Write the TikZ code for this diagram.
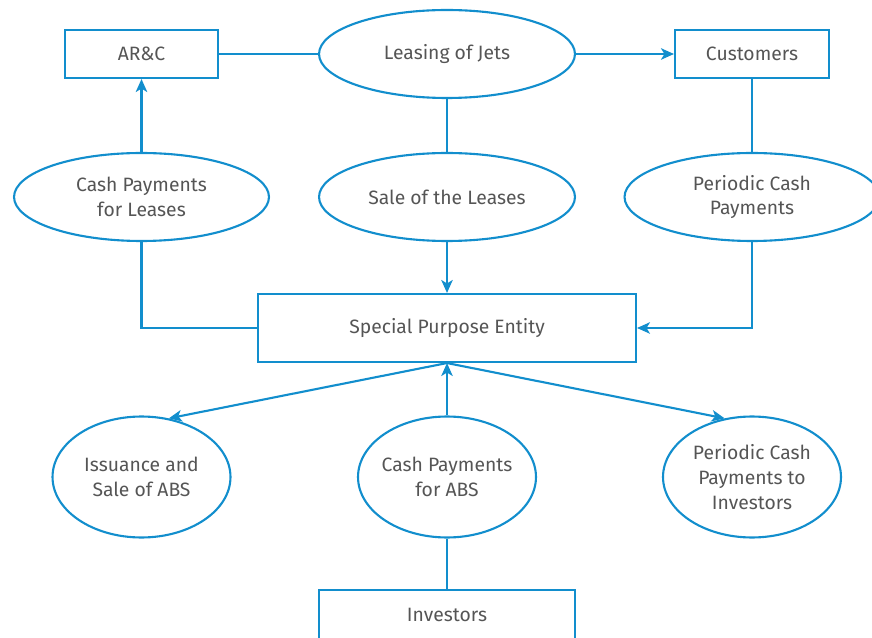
\documentclass[tikz,border=0pt]{standalone}
\usepackage{fontspec}
\setmainfont{Fira Sans}
\usetikzlibrary{shapes.geometric,arrows.meta}

\definecolor{flowblue}{RGB}{18,142,205}
\definecolor{flowtext}{RGB}{85,85,85}

\begin{document}
\begin{tikzpicture}[x=0.02cm,y=-0.02cm]

\tikzset{
  box node/.style={
    draw=flowblue, line width=1.2pt, rectangle,
    text=flowtext, font=\fontsize{11}{14.2}\selectfont,
    inner sep=0pt,
  },
  oval node/.style={
    draw=flowblue, line width=1.2pt, ellipse, align=center,
    text=flowtext, font=\fontsize{11}{14.2}\selectfont,
    inner sep=0pt,
  },
  small oval/.style={
    oval node, inner xsep=-6pt,
    minimum width=3.56cm, minimum height=2.42cm,
  },
  link/.style={
    draw=flowblue, line width=1.2pt,
  },
  arrowlink/.style={
    link, -{Stealth[length=2.6mm,width=2.3mm,inset=0.7mm]},
  }
}

  \useasboundingbox (0,0) rectangle (872,638);
  \clip (0,0) rectangle (872,638);

  % Top row
  \node[box node, minimum width=3.06cm, minimum height=0.96cm] (arc) at (141.5,54) {AR\&C};
  \node[oval node, minimum width=5.12cm, minimum height=1.76cm] (leasing) at (447,54) {Leasing of Jets};
  \node[box node, minimum width=3.08cm, minimum height=0.96cm] (customers) at (752,54) {Customers};

  % Second row
  \node[oval node, minimum width=5.1cm, minimum height=1.76cm] (cashleases) at (141.5,197) {Cash Payments\\for Leases};
  \node[oval node, minimum width=5.12cm, minimum height=1.76cm] (sale) at (447,197) {Sale of the Leases};
  \node[oval node, minimum width=5.1cm, minimum height=1.76cm] (periodic) at (752,197) {Periodic Cash\\Payments};

  % Middle
  \node[box node, minimum width=7.56cm, minimum height=1.36cm] (spe) at (447,328) {Special Purpose Entity};

  % Third row
  \node[small oval] (issuance) at (141.5,477) {Issuance and\\Sale of ABS};
  \node[small oval] (cashabs) at (447,477) {Cash Payments\\for ABS};
  \node[small oval] (periodicinv) at (752,477) {Periodic Cash\\Payments to\\Investors};

  % Bottom
  \node[box node, minimum width=5.12cm, minimum height=1.0cm] (investors) at (447,615) {Investors};

  % Edges
  \draw[link] (arc) -- (leasing);
  \draw[arrowlink] (leasing) -- (customers);
  \draw[link] (leasing) -- (sale);
  \draw[arrowlink] (sale) -- (spe);
  \draw[link] (customers) -- (periodic);
  \draw[arrowlink] (periodic.south) |- (spe.east);
  \draw[arrowlink] (cashleases) -- (arc);
  \draw[link] (cashleases.south) |- (spe.west);

  \draw[arrowlink] (spe.south) -- (issuance.65);
  \draw[arrowlink] (spe.south) -- (periodicinv.115);
  \draw[arrowlink] (cashabs) -- (spe);
  \draw[link] (investors) -- (cashabs);
\end{tikzpicture}
\end{document}
